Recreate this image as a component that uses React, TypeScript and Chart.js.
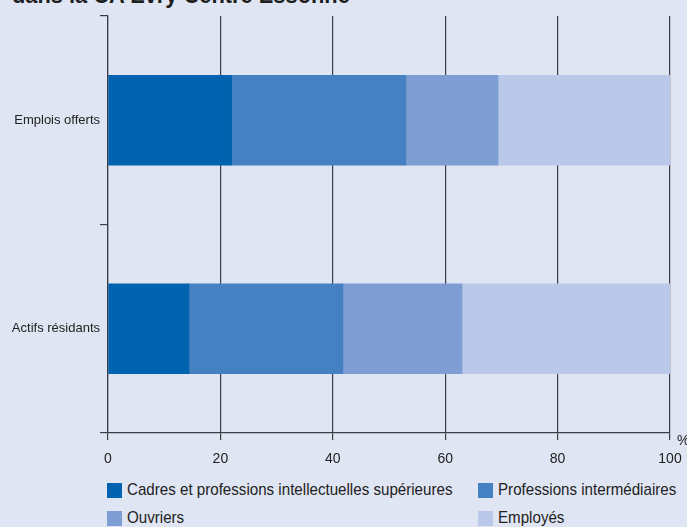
import React, { useEffect, useRef } from 'react';
import { Chart, registerables } from 'chart.js';

Chart.register(...registerables);

const titleText = 'dans la CA Evry Centre Essonne';
const categories = ['Emplois offerts', 'Actifs résidants'];
const seriesLabels = [
  'Cadres et professions intellectuelles supérieures',
  'Professions intermédiaires',
  'Ouvriers',
  'Employés',
];
const cadres = [22, 14.4];
const profInter = [31, 27.4];
const ouvriers = [16.4, 21.2];
const employes = [30.6, 37];
const seriesValues = [cadres, profInter, ouvriers, employes];
const seriesColors = ['#0063b0', '#4480c2', '#7e9ed3', '#bac9e9'];
const xMin = 0;
const xMax = 100;
const xStep = 20;
const unitLabel = '%';

const FONT = '"Liberation Sans", Arial, sans-serif';
const BG = '#e0e5f3';
const LINE = '#3c3c44';

export default function App() {
  const canvasRef = useRef<HTMLCanvasElement | null>(null);

  useEffect(() => {
    if (!canvasRef.current) return;
    const unitPlugin = {
      id: 'unitLabel',
      afterDraw(chart: any) {
        const { ctx, chartArea } = chart;
        ctx.save();
        ctx.fillStyle = '#222';
        ctx.font = `14px ${FONT}`;
        ctx.textAlign = 'left';
        ctx.textBaseline = 'middle';
        ctx.fillText(unitLabel, chartArea.right + 7, chartArea.bottom + 8);
        ctx.restore();
      },
    };
    const chart = new Chart(canvasRef.current, {
      type: 'bar',
      data: {
        labels: categories,
        datasets: seriesLabels.map((label, i) => ({
          label,
          data: seriesValues[i],
          backgroundColor: seriesColors[i],
          borderWidth: 0,
          barThickness: 90,
        })),
      },
      options: {
        indexAxis: 'y',
        animation: false,
        responsive: false,
        maintainAspectRatio: false,
        layout: { padding: { top: 16, right: 17, left: 0, bottom: 0 } },
        plugins: {
          legend: { display: false },
          tooltip: { enabled: false },
          title: { display: false },
        },
        scales: {
          x: {
            stacked: true,
            min: xMin,
            max: xMax,
            ticks: {
              stepSize: xStep,
              color: '#222',
              font: { family: FONT, size: 14 },
              padding: 11,
            },
            grid: {
              color: LINE,
              lineWidth: 1.2,
              tickLength: 7,
              drawOnChartArea: true,
            },
            border: { display: true, color: LINE, width: 1.2 },
            afterFit(scale: any) {
              scale.height = 37;
              scale.paddingLeft = 0;
              scale.paddingRight = 0;
            },
          },
          y: {
            stacked: true,
            offset: true,
            ticks: {
              color: '#222',
              font: { family: FONT, size: 13 },
              padding: 0,
            },
            grid: {
              offset: true,
              drawOnChartArea: false,
              color: LINE,
              lineWidth: 1.2,
              tickLength: 8,
            },
            border: { display: true, color: LINE, width: 1.2 },
            afterFit(scale: any) {
              scale.width = 108;
            },
          },
        },
      },
      plugins: [unitPlugin],
    });
    return () => chart.destroy();
  }, []);

  return (
    <div
      style={{
        position: 'fixed',
        left: 0,
        top: 0,
        width: 687,
        height: 527,
        overflow: 'hidden',
        background: BG,
        fontFamily: FONT,
        color: '#222',
      }}
    >
      <div
        style={{
          position: 'absolute',
          left: 12,
          top: -17,
          fontSize: 24,
          fontWeight: 'bold',
          lineHeight: '24px',
          whiteSpace: 'nowrap',
          color: '#1e1e1e',
          transform: 'scaleX(0.91)',
          transformOrigin: 'left top',
        }}
      >
        {titleText}
      </div>
      <canvas
        ref={canvasRef}
        width={687}
        height={470}
        style={{ position: 'absolute', left: 0, top: 0, width: 687, height: 470 }}
      />
      {seriesLabels.map((label, i) => {
        const col = i % 2;
        const row = Math.floor(i / 2);
        const left = col === 0 ? 107 : 478;
        const top = row === 0 ? 482 : 510;
        return (
          <div
            key={label}
            style={{
              position: 'absolute',
              left,
              top,
              height: 16,
              display: 'flex',
              alignItems: 'center',
              whiteSpace: 'nowrap',
              fontSize: 17,
            }}
          >
            <span
              style={{
                display: 'inline-block',
                width: 15,
                height: 15,
                background: seriesColors[i],
                marginRight: 5,
              }}
            />
            <span
              style={{
                display: 'inline-block',
                transform: 'scaleX(0.89)',
                transformOrigin: 'left center',
              }}
            >
              {label}
            </span>
          </div>
        );
      })}
    </div>
  );
}
